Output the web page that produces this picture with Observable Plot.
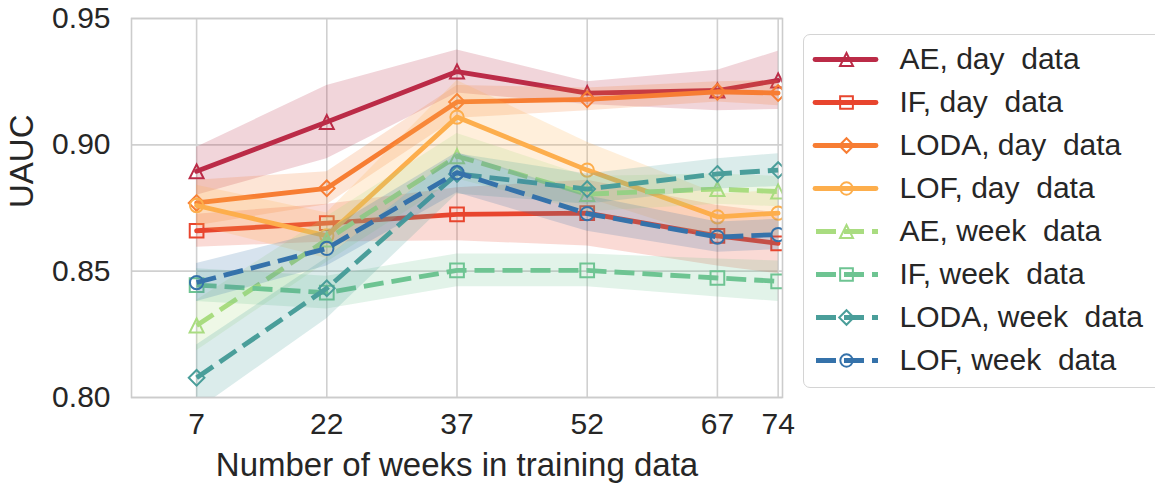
<!DOCTYPE html>
<html>
<head>
<meta charset="utf-8">
<script src="https://cdn.jsdelivr.net/npm/d3@7"></script>
<script src="https://cdn.jsdelivr.net/npm/@observablehq/plot@0.6"></script>
<style>
  html, body { margin: 0; padding: 0; background: #fff; overflow: hidden; }
  #wrap { position: relative; width: 1155px; height: 485px; font-family: "Liberation Sans", Arial, sans-serif; }
  #chart { position: absolute; left: 0; top: 0; }
  #legend { position: absolute; left: 803px; top: 34px; width: 380px; height: 354px; box-sizing: border-box;
            border: 1.5px solid #d4d4d4; border-radius: 7px; background: #fff; }
  #legend svg { position: absolute; left: -1.5px; top: -1.5px; }
  #legend svg text { white-space: pre; }
</style>
</head>
<body>
<div id="wrap"><div id="chart"></div><div id="legend"></div></div>
<script>
// ---- data ----
const weeks = [7, 22, 37, 52, 67, 74];
const xTicks = [7, 22, 37, 52, 67, 74];
const yTicks = [0.80, 0.85, 0.90, 0.95];
const seriesNames = ["AE, day  data", "IF, day  data", "LODA, day  data", "LOF, day  data",
                     "AE, week  data", "IF, week  data", "LODA, week  data", "LOF, week  data"];
const seriesColors = ["#bb2b47", "#e8452e", "#f77d33", "#fdae4c", "#a9dc80", "#6ec492", "#4a9e9a", "#3572aa"];
const seriesMarkers = ["tri", "sq", "dia", "circ", "tri", "sq", "dia", "circ"];
const seriesDashed = [false, false, false, false, true, true, true, true];

const aeDayMean   = [0.8895, 0.909, 0.929, 0.9205, 0.9215, 0.9255];
const ifDayMean   = [0.866, 0.869, 0.8725, 0.873, 0.864, 0.861];
const lodaDayMean = [0.877, 0.8828, 0.917, 0.918, 0.921, 0.9205];
const lofDayMean  = [0.876, 0.864, 0.911, 0.890, 0.8715, 0.873];
const aeWeekMean   = [0.8285, 0.8625, 0.8955, 0.8805, 0.8825, 0.8815];
const ifWeekMean   = [0.8445, 0.8415, 0.8503, 0.8503, 0.8473, 0.8460];
const lodaWeekMean = [0.8078, 0.8432, 0.8885, 0.8825, 0.8885, 0.890];
const lofWeekMean  = [0.8455, 0.859, 0.889, 0.8728, 0.8635, 0.8645];

const aeDayStd   = [0.0095, 0.0145, 0.0085, 0.0045, 0.008, 0.0115];
const ifDayStd   = [0.0065, 0.0075, 0.0105, 0.013, 0.012, 0.012];
const lodaDayStd = [0.009, 0.0065, 0.0065, 0.0045, 0.004, 0.005];
const lofDayStd  = [0.008, 0.009, 0.0145, 0.011, 0.009, 0.009];
const aeWeekStd   = [0.010, 0.009, 0.009, 0.007, 0.006, 0.006];
const ifWeekStd   = [0.0065, 0.0065, 0.0065, 0.0065, 0.0075, 0.008];
const lodaWeekStd = [0.013, 0.012, 0.008, 0.006, 0.006, 0.0065];
const lofWeekStd  = [0.0075, 0.007, 0.008, 0.007, 0.006, 0.006];

const means = [aeDayMean, ifDayMean, lodaDayMean, lofDayMean, aeWeekMean, ifWeekMean, lodaWeekMean, lofWeekMean];
const stds  = [aeDayStd, ifDayStd, lodaDayStd, lofDayStd, aeWeekStd, ifWeekStd, lodaWeekStd, lofWeekStd];

// ---- matplotlib-like unfilled markers ----
const mk = (f) => ({ draw(ctx, size) { const r = Math.sqrt(size / Math.PI); f(ctx, r); } });
const symbols = {
  tri: mk((c, r) => { c.moveTo(0, -r); c.lineTo(r, r); c.lineTo(-r, r); c.closePath(); }),
  sq: mk((c, r) => { const h = r * 0.98; c.moveTo(-h, -h); c.lineTo(h, -h); c.lineTo(h, h); c.lineTo(-h, h); c.closePath(); }),
  dia: mk((c, r) => { const h = r * 1.12; c.moveTo(0, -h); c.lineTo(h, 0); c.lineTo(0, h); c.lineTo(-h, 0); c.closePath(); }),
  circ: mk((c, r) => { const h = r * 0.95; c.moveTo(h, 0); c.arc(0, 0, h, 0, 2 * Math.PI); })
};

const textColor = "#262626";
const font = "'Liberation Sans', Arial, sans-serif";
const dash = "20,8";

// ---- main chart ----
const marks = [
  Plot.ruleY(yTicks, {stroke: "#d0d0d0", strokeWidth: 1.6}),
  Plot.ruleX(xTicks, {stroke: "#d0d0d0", strokeWidth: 1.6})
];
seriesNames.forEach((name, i) => {
  const rows = weeks.map((w, j) => ({week: w, mean: means[i][j], std: stds[i][j]}));
  const color = seriesColors[i];
  marks.push(
    Plot.areaY(rows, {x: "week", y1: d => d.mean - d.std, y2: d => d.mean + d.std,
      fill: color, fillOpacity: 0.2, clip: true}),
    Plot.lineY(rows, {x: "week", y: "mean", stroke: color, strokeWidth: 4.8,
      strokeDasharray: seriesDashed[i] ? dash : null,
      strokeLinecap: seriesDashed[i] ? "butt" : "round", strokeLinejoin: "round", clip: true}),
    Plot.dot(rows, {x: "week", y: "mean", symbol: symbols[seriesMarkers[i]], r: 7,
      stroke: color, strokeWidth: 2, fill: "none", clip: true})
  );
});
marks.push(
  Plot.frame({stroke: "#cccccc", strokeWidth: 1.6}),
  Plot.axisX(xTicks, {tickSize: 0, tickPadding: 15, label: null, fill: textColor, fontSize: 30}),
  Plot.axisY(yTicks, {tickSize: 0, tickPadding: 21, label: null, tickFormat: d3.format(".2f"), fill: textColor, fontSize: 30}),
  Plot.text(["Number of weeks in training data"], {text: d => d, frameAnchor: "bottom", dy: 68,
    lineAnchor: "middle", fontSize: 33, fill: textColor}),
  Plot.text(["UAUC"], {text: d => d, frameAnchor: "left", dx: -109, rotate: -90,
    lineAnchor: "middle", fontSize: 33, fill: textColor})
);

const chart = Plot.plot({
  width: 1155, height: 485,
  marginLeft: 131, marginRight: 373, marginTop: 18, marginBottom: 88,
  style: {fontFamily: font, fontSize: "30px", color: textColor, background: "transparent"},
  x: {domain: [-0.5, 74.5]},
  y: {domain: [0.8, 0.95]},
  marks
});
document.getElementById("chart").appendChild(chart);

// ---- legend ----
const legendRows = seriesNames.map((name, i) => ({name, i}));
const legendMarks = [];
legendRows.forEach(r => {
  legendMarks.push(
    Plot.ruleY([r], {y: "name", x1: seriesDashed[r.i] ? 13 : 12, x2: seriesDashed[r.i] ? 75 : 73,
      stroke: seriesColors[r.i], strokeWidth: 4.8,
      strokeDasharray: seriesDashed[r.i] ? dash : null,
      strokeLinecap: seriesDashed[r.i] ? "butt" : "round"}),
    Plot.dot([r], {y: "name", x: () => 43, symbol: symbols[seriesMarkers[r.i]], r: 6.5,
      stroke: seriesColors[r.i], strokeWidth: 2, fill: "none"})
  );
});
legendMarks.push(Plot.text(legendRows, {y: "name", x: () => 96, text: "name", textAnchor: "start",
  lineAnchor: "middle", fontSize: 30, fill: textColor}));

const legend = Plot.plot({
  width: 360, height: 356,
  margin: 0,
  style: {fontFamily: font, background: "transparent", overflow: "visible"},
  x: {domain: [0, 360], range: [0, 360], axis: null},
  y: {type: "point", domain: seriesNames, range: [24.5, 325.5], padding: 0, axis: null},
  marks: legendMarks
});
document.getElementById("legend").appendChild(legend);
</script>
</body>
</html>
